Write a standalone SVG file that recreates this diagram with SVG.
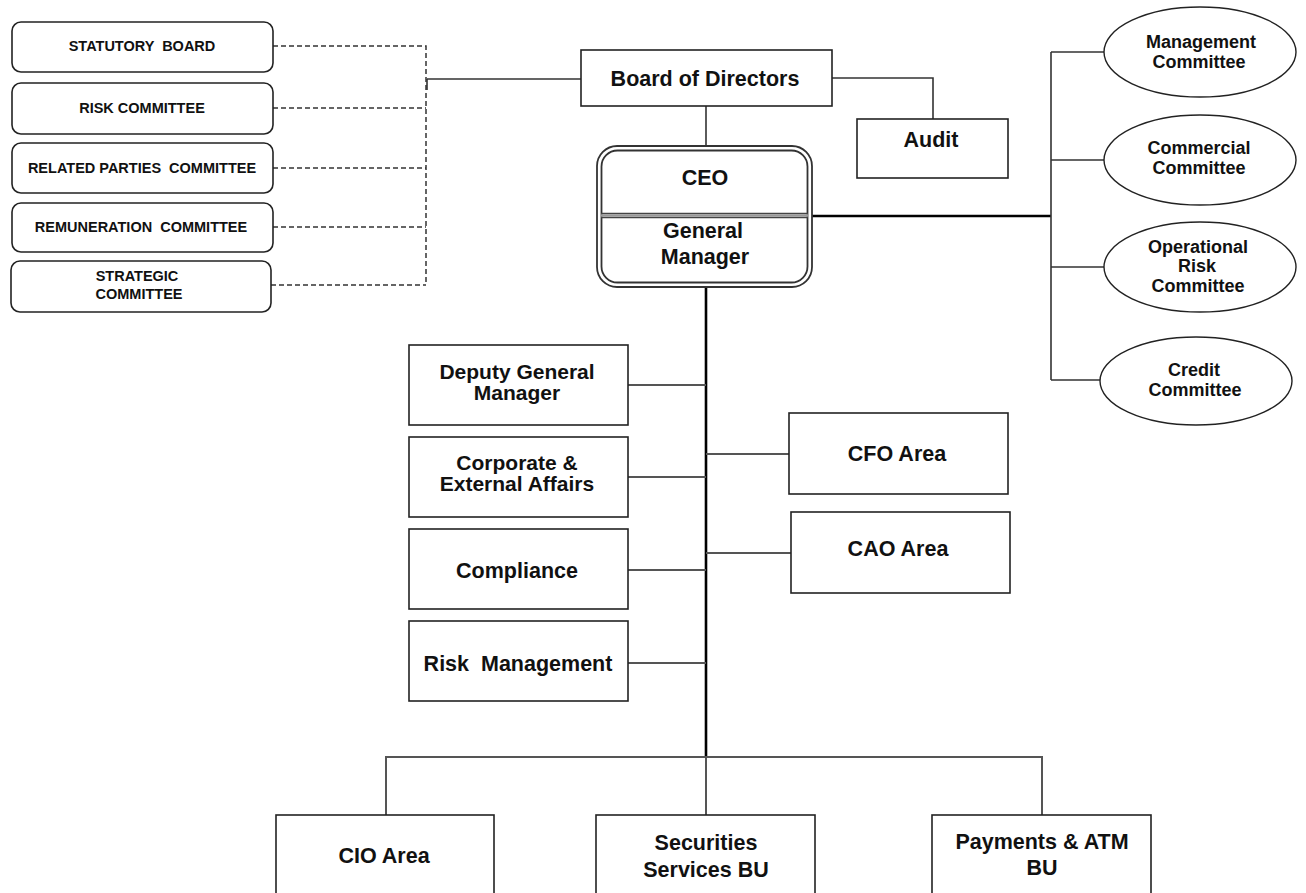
<svg xmlns="http://www.w3.org/2000/svg" width="1306" height="893" viewBox="0 0 1306 893">
<style>
text{font-family:"Liberation Sans",Arial,sans-serif;font-weight:bold;fill:#111;text-anchor:middle}
.sm{font-size:14.5px}
.md{font-size:21.5px}
.md2{font-size:21px}
.el{font-size:18px}
.box{fill:#fff;stroke:#222;stroke-width:1.6}
.rbox{fill:#fff;stroke:#222;stroke-width:1.6}
.ell{fill:#fff;stroke:#222;stroke-width:1.4}
.dash{fill:none;stroke:#333;stroke-width:1.5;stroke-dasharray:5 3}
.ln{fill:none;stroke:#333;stroke-width:1.6}
.gl{fill:none;stroke:#555;stroke-width:2}
.thick{fill:none;stroke:#000;stroke-width:2.6}
</style>
<rect width="1306" height="893" fill="#fff"/>
<g id="connectors">
<path class="dash" d="M273 46H426V285"/>
<path class="dash" d="M273 108H426"/>
<path class="dash" d="M273 168H426"/>
<path class="dash" d="M273 227H426"/>
<path class="dash" d="M271 285H426"/>
<path class="ln" d="M427 79V90M427 79H581"/>
<path class="ln" d="M832 78H933V119"/>
<path class="ln" d="M706 106V148"/>
<path class="thick" d="M812 216H1051"/>
<path class="ln" d="M1051 52V380"/>
<path class="ln" d="M1051 52H1104M1051 160H1104M1051 267H1104M1051 380H1100"/>
<path class="thick" d="M706 287V757"/>
<path class="gl" d="M628 385H706M628 477H706M628 570H706M628 663H706"/>
<path class="gl" d="M706 454H789M706 553H791"/>
<path class="gl" d="M386 815V757H1042V815M706 757V815"/>
</g>
<g id="statutory-board"><rect class="rbox" x="12" y="22" width="261" height="50" rx="9"/><text class="sm" x="142" y="51" xml:space="preserve">STATUTORY  BOARD</text></g>
<g id="risk-committee"><rect class="rbox" x="12" y="83" width="261" height="51" rx="9"/><text class="sm" x="142" y="113">RISK COMMITTEE</text></g>
<g id="related-parties-committee"><rect class="rbox" x="12" y="143" width="261" height="50" rx="9"/><text class="sm" x="142" y="173" xml:space="preserve">RELATED PARTIES  COMMITTEE</text></g>
<g id="remuneration-committee"><rect class="rbox" x="12" y="203" width="261" height="49" rx="9"/><text class="sm" x="141" y="232" xml:space="preserve">REMUNERATION  COMMITTEE</text></g>
<g id="strategic-committee"><rect class="rbox" x="11" y="261" width="260" height="51" rx="9"/><text class="sm" x="137" y="281">STRATEGIC</text><text class="sm" x="139" y="299">COMMITTEE</text></g>
<g id="board-of-directors"><rect class="box" x="581" y="50" width="251" height="56"/><text class="md" x="705" y="86">Board of Directors</text></g>
<g id="audit"><rect class="box" x="857" y="119" width="151" height="59"/><text class="md" x="931" y="147">Audit</text></g>
<g id="ceo-general-manager">
<rect x="597" y="146" width="215" height="141" rx="20" fill="#fff" stroke="#333" stroke-width="1.8"/>
<rect x="601.5" y="150.5" width="206" height="132" rx="16" fill="none" stroke="#333" stroke-width="1.8"/>
<path d="M601 213.5H808M601 217.5H808" stroke="#444" stroke-width="1.6"/>
<path d="M601 215.5H808" stroke="#999" stroke-width="2.4"/>
<text class="md" x="705" y="185">CEO</text>
<text class="md" x="703" y="238">General</text>
<text class="md" x="705" y="264">Manager</text>
</g>
<g id="management-committee"><ellipse class="ell" cx="1200" cy="52" rx="96" ry="45"/><text class="el" x="1201" y="48">Management</text><text class="el" x="1199" y="68">Committee</text></g>
<g id="commercial-committee"><ellipse class="ell" cx="1200" cy="160" rx="96" ry="45"/><text class="el" x="1199" y="154">Commercial</text><text class="el" x="1199" y="174">Committee</text></g>
<g id="operational-risk-committee"><ellipse class="ell" cx="1200" cy="267" rx="96" ry="45"/><text class="el" x="1198" y="253">Operational</text><text class="el" x="1197" y="272">Risk</text><text class="el" x="1198" y="292">Committee</text></g>
<g id="credit-committee"><ellipse class="ell" cx="1196" cy="381" rx="96" ry="44"/><text class="el" x="1194" y="376">Credit</text><text class="el" x="1195" y="396">Committee</text></g>
<g id="deputy-general-manager"><rect class="box" x="409" y="345" width="219" height="80"/><text class="md2" x="517" y="379">Deputy General</text><text class="md2" x="517" y="400">Manager</text></g>
<g id="corporate-external-affairs"><rect class="box" x="409" y="437" width="219" height="80"/><text class="md2" x="517" y="470">Corporate &amp;</text><text class="md2" x="517" y="491">External Affairs</text></g>
<g id="compliance"><rect class="box" x="409" y="529" width="219" height="80"/><text class="md" x="517" y="578">Compliance</text></g>
<g id="risk-management"><rect class="box" x="409" y="621" width="219" height="80"/><text class="md" x="518" y="671" xml:space="preserve">Risk  Management</text></g>
<g id="cfo-area"><rect class="box" x="789" y="413" width="219" height="81"/><text class="md" x="897" y="461">CFO Area</text></g>
<g id="cao-area"><rect class="box" x="791" y="512" width="219" height="81"/><text class="md" x="898" y="556">CAO Area</text></g>
<g id="cio-area"><rect class="box" x="276" y="815" width="218" height="90"/><text class="md" x="384" y="863">CIO Area</text></g>
<g id="securities-services-bu"><rect class="box" x="596" y="815" width="219" height="90"/><text class="md" x="706" y="850">Securities</text><text class="md" x="706" y="877">Services BU</text></g>
<g id="payments-atm-bu"><rect class="box" x="932" y="815" width="219" height="90"/><text class="md" x="1042" y="849">Payments &amp; ATM</text><text class="md" x="1042" y="875">BU</text></g>
</svg>
